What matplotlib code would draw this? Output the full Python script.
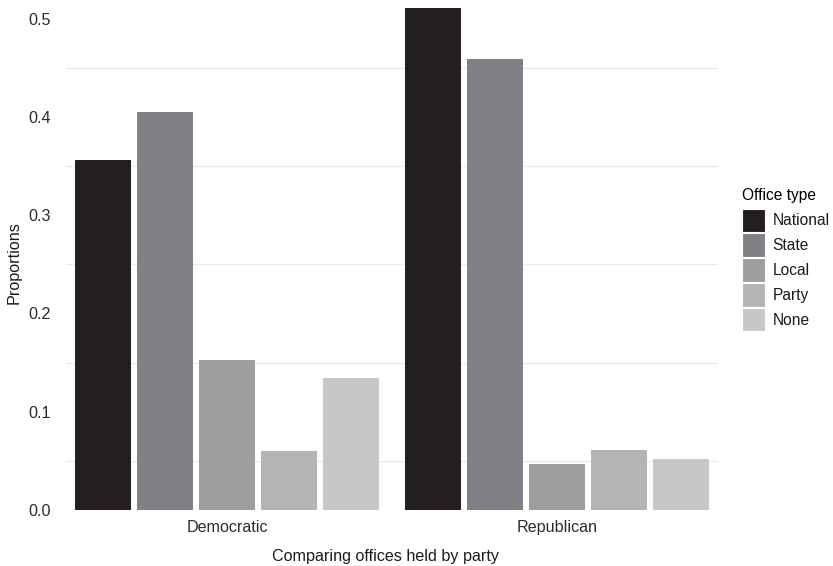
import numpy as np
import matplotlib
matplotlib.use("Agg")
import matplotlib.pyplot as plt
from matplotlib.patches import Patch

plt.rcParams['font.family'] = ['Liberation Sans', 'DejaVu Sans']

# Data
parties = ["Democratic", "Republican"]
office_types = ["National", "State", "Local", "Party", "None"]
democratic = [0.356, 0.405, 0.153, 0.060, 0.134]
republican = [0.511, 0.459, 0.047, 0.061, 0.052]
colors = ["#231f20", "#808184", "#9d9ea0", "#b3b4b5", "#c6c7c8"]

values = np.array([democratic, republican])

fig = plt.figure(figsize=(8.33, 5.66), dpi=100)
ax = fig.add_axes([66 / 833, 56 / 566, (718 - 66) / 833, 510 / 566])

x = np.arange(1, len(parties) + 1)
step = 0.188
width = 0.17
for i, (name, col) in enumerate(zip(office_types, colors)):
    offset = (i - 2) * step
    ax.bar(x + offset, values[:, i], width=width, color=col, label=name)

ax.set_xlim(0.512, 2.488)
ax.set_ylim(0, 0.519)

# minimal theme: only the minor grid lines are visible
ax.set_yticks([0.0, 0.1, 0.2, 0.3, 0.4, 0.5])
ax.set_yticklabels(["0.0", "0.1", "0.2", "0.3", "0.4", "0.5"])
ax.set_yticks([0.05, 0.15, 0.25, 0.35, 0.45], minor=True)
ax.grid(True, axis='y', which='minor', color='#ebebeb', linewidth=1.0)
ax.set_axisbelow(True)
ax.set_xticks(x)
ax.set_xticklabels(parties)

fs = 11.6
for s in ax.spines.values():
    s.set_visible(False)
ax.tick_params(axis='both', which='both', length=0, labelsize=fs,
               labelcolor='#2b2b2b')
ax.tick_params(axis='x', pad=7)
ax.tick_params(axis='y', pad=11)

fig.text(385 / 833, 1 - 557 / 566, "Comparing offices held by party",
         ha='center', va='center', fontsize=fs, color='#1a1a1a')
fig.text(14 / 833, 1 - 263 / 566, "Proportions", rotation=90,
         ha='center', va='center', fontsize=fs, color='#1a1a1a')

handles = [Patch(facecolor=c, edgecolor='white', linewidth=0.8) for c in colors]
leg = fig.legend(handles, office_types, title="Office type",
                 loc='upper left', bbox_to_anchor=(742 / 833, 1 - 188 / 566),
                 frameon=False, fontsize=11.2, title_fontsize=11.2,
                 handlelength=1.5, handleheight=1.93, labelspacing=0.1,
                 handletextpad=0.45, borderaxespad=0, borderpad=0)
leg._legend_box.align = "left"
leg._legend_box.sep = 4
for t in leg.get_texts():
    t.set_color('#1a1a1a')

fig.savefig("out.png", dpi=100)
